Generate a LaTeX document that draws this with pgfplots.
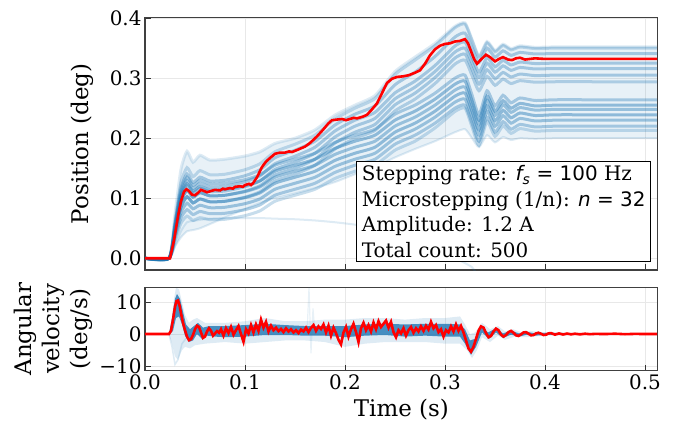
\documentclass[border=0pt]{standalone}
\usepackage{fontspec}
\setmainfont{DejaVu Serif}
\newfontfamily\dvsans{DejaVu Sans}
\usepackage{pgfplots}
\pgfplotsset{compat=1.18}
\usepackage{pgfplotstable}
\usepgfplotslibrary{fillbetween}
\definecolor{tblue}{RGB}{31,119,180}

\pgfplotstableread{
t u0 u1 u2 u3 u4 u5 u6 l1 l2 l3 l4 l5 l6 l7 o1 o2
0 0 0 0 0 0 0 0 0 0 0 0 0 0 0 0 0
0.024 0 0 0 0 0 0 0 0 0 0 0 0 0 0 0 0
0.03 0.0743 0.063 0.0585 0.054 0.0504 0.0473 0.0428 0.0563 0.0518 0.0473 0.0428 0.0383 0.0338 0.0293 0.02 0.02
0.036 0.1485 0.126 0.117 0.108 0.1008 0.0945 0.0855 0.1125 0.1035 0.0945 0.0855 0.0765 0.0675 0.0585 0.035 0.045
0.042 0.1782 0.151 0.1404 0.1296 0.121 0.1134 0.1026 0.135 0.1242 0.1134 0.1026 0.0918 0.081 0.0702 0.045 0.06
0.048 0.16 0.136 0.1261 0.1164 0.1086 0.1019 0.0922 0.1213 0.1116 0.1019 0.0922 0.0825 0.0728 0.0631 0.047 0.062
0.055 0.1716 0.146 0.1352 0.1248 0.1165 0.1092 0.0988 0.13 0.1196 0.1092 0.0988 0.0884 0.078 0.0676 0.05 0.064
0.065 0.1634 0.139 0.1287 0.1188 0.1109 0.104 0.0941 0.1238 0.1139 0.104 0.0941 0.0842 0.0743 0.0644 0.057 0.066
0.08 0.165 0.14 0.13 0.12 0.112 0.105 0.095 0.125 0.115 0.105 0.095 0.085 0.075 0.065 0.068 0.067
0.1 0.1703 0.1475 0.1375 0.1275 0.1192 0.1118 0.1018 0.131 0.121 0.111 0.101 0.091 0.081 0.071 0.082 0.067
0.115 0.1773 0.1575 0.1475 0.1375 0.1288 0.1208 0.1108 0.139 0.129 0.119 0.109 0.099 0.089 0.079 0.092 0.067
0.13 0.1913 0.1775 0.1675 0.1575 0.148 0.1388 0.1288 0.155 0.145 0.135 0.125 0.115 0.105 0.095 0.1 0.066
0.15 0.2 0.19 0.18 0.17 0.16 0.15 0.14 0.165 0.155 0.145 0.135 0.125 0.115 0.105 0.108 0.065
0.17 0.2138 0.205 0.195 0.185 0.175 0.165 0.155 0.175 0.165 0.155 0.145 0.135 0.125 0.115 0.117 0.063
0.19 0.2385 0.232 0.222 0.212 0.202 0.192 0.182 0.193 0.183 0.173 0.163 0.153 0.143 0.133 0.127 0.06
0.21 0.255 0.25 0.24 0.23 0.22 0.21 0.2 0.205 0.195 0.185 0.175 0.165 0.155 0.145 0.14 0.056
0.23 0.271 0.266 0.254 0.243 0.233 0.223 0.213 0.215 0.205 0.195 0.185 0.175 0.165 0.155 0.152 0.05
0.25 0.311 0.306 0.289 0.2755 0.2655 0.2555 0.2455 0.24 0.23 0.22 0.21 0.2 0.19 0.18 0.168 0.042
0.27 0.335 0.33 0.31 0.295 0.285 0.275 0.265 0.255 0.245 0.235 0.225 0.215 0.205 0.195 0.182 0.03
0.29 0.3578 0.354 0.336 0.321 0.311 0.301 0.291 0.275 0.265 0.255 0.245 0.235 0.225 0.217 0.195 0.015
0.31 0.3863 0.384 0.3685 0.3535 0.3435 0.3335 0.3235 0.3 0.29 0.28 0.27 0.26 0.25 0.2445 0.21 0.0
0.32 0.392 0.39 0.375 0.36 0.35 0.34 0.33 0.305 0.295 0.285 0.275 0.265 0.255 0.25 0.215 -0.008
0.327 0.3645 0.3625 0.3505 0.335 0.3255 0.315 0.3045 0.272 0.2625 0.254 0.2445 0.235 0.225 0.219 0.2 -0.015
0.334 0.337 0.335 0.326 0.31 0.301 0.29 0.279 0.239 0.23 0.223 0.214 0.205 0.195 0.188 0.185 -0.03
0.342 0.361 0.359 0.35 0.334 0.325 0.314 0.303 0.279 0.27 0.263 0.254 0.245 0.235 0.228 0.205 -0.04
0.35 0.346 0.344 0.335 0.319 0.31 0.299 0.288 0.254 0.245 0.238 0.229 0.22 0.21 0.203 0.193 -0.05
0.358 0.3565 0.3545 0.3455 0.3295 0.3205 0.3095 0.2985 0.2715 0.2625 0.2555 0.2465 0.2375 0.2275 0.2205 0.202 -0.05
0.366 0.349 0.347 0.338 0.322 0.313 0.302 0.291 0.259 0.25 0.243 0.234 0.225 0.215 0.208 0.197 -0.05
0.375 0.3538 0.3518 0.3428 0.3268 0.3178 0.3068 0.2958 0.267 0.258 0.251 0.242 0.233 0.223 0.216 0.2 -0.05
0.39 0.3513 0.3493 0.3403 0.3243 0.3153 0.3043 0.2933 0.2628 0.2538 0.2468 0.2378 0.2288 0.2188 0.2118 0.199 -0.05
0.41 0.352 0.35 0.341 0.325 0.316 0.305 0.294 0.264 0.255 0.248 0.239 0.23 0.22 0.213 0.2 -0.05
0.45 0.352 0.35 0.341 0.325 0.316 0.305 0.294 0.264 0.255 0.248 0.239 0.23 0.22 0.213 0.2 -0.05
0.512 0.352 0.35 0.341 0.325 0.316 0.305 0.294 0.264 0.255 0.248 0.239 0.23 0.22 0.213 0.2 -0.05
}\pos

\pgfplotstableread{
t y
0 0
0.025 0
0.029 0.03
0.033 0.07
0.036 0.095
0.039 0.111
0.0415 0.115
0.044 0.112
0.047 0.106
0.05 0.105
0.053 0.109
0.056 0.114
0.059 0.112
0.062 0.110
0.066 0.112
0.07 0.114
0.075 0.113
0.078 0.116
0.08 0.115
0.085 0.117
0.088 0.116
0.09 0.119
0.095 0.12
0.098 0.119
0.1 0.122
0.104 0.124
0.106 0.122
0.108 0.125
0.112 0.135
0.117 0.152
0.121 0.161
0.125 0.167
0.13 0.174
0.135 0.176
0.14 0.176
0.144 0.178
0.147 0.177
0.153 0.181
0.16 0.186
0.165 0.192
0.172 0.203
0.178 0.214
0.183 0.224
0.187 0.23
0.192 0.231
0.197 0.232
0.201 0.230
0.205 0.232
0.209 0.234
0.212 0.233
0.218 0.236
0.222 0.239
0.227 0.248
0.232 0.258
0.237 0.275
0.242 0.292
0.247 0.299
0.252 0.302
0.258 0.303
0.264 0.305
0.27 0.309
0.275 0.313
0.28 0.324
0.285 0.338
0.29 0.348
0.295 0.354
0.3 0.357
0.305 0.358
0.31 0.361
0.315 0.362
0.32 0.365
0.323 0.358
0.326 0.345
0.329 0.332
0.332 0.324
0.336 0.331
0.341 0.339
0.345 0.335
0.35 0.328
0.354 0.332
0.358 0.335
0.363 0.331
0.367 0.33
0.371 0.333
0.375 0.334
0.38 0.331
0.385 0.332
0.39 0.333
0.4 0.332
0.42 0.332
0.45 0.332
0.5 0.332
0.512 0.332
}\redpos

\pgfplotstableread{
t y
0 0
0.024 0
0.026 1
0.028 4.5
0.030 8.5
0.0315 10.3
0.033 10.5
0.0345 9
0.036 6.5
0.038 3.5
0.040 1.2
0.042 -0.8
0.044 -1.9
0.046 -1.6
0.048 -0.3
0.050 1.5
0.052 2.6
0.054 2.2
0.056 0.5
0.058 -1.2
0.060 -0.8
0.062 0.8
0.064 1.8
0.066 1.0
0.068 -0.5
0.070 0.2
0.072 0.9
0.074 0.4
0.0760 1.5
0.0785 -0.5
0.0810 1.8
0.0835 0.3
0.0860 2.2
0.0885 -0.2
0.0910 1.2
0.0935 2.5
0.0960 0.0
0.0985 -2.4
0.1010 1.5
0.1035 0.2
0.1060 2.8
0.1085 0.5
0.1110 3.0
0.1135 1.0
0.1160 4.5
0.1185 2.0
0.1210 3.8
0.1235 0.8
0.1260 2.6
0.1285 1.2
0.1310 2.0
0.1335 0.9
0.1360 1.6
0.1385 0.6
0.1410 1.8
0.1435 0.8
0.1460 1.5
0.1485 0.5
0.1510 1.2
0.1535 0.3
0.1560 1.4
0.1585 0.8
0.1610 2.0
0.1635 0.6
0.1660 1.9
0.1685 2.8
0.1710 1.0
0.1735 2.4
0.1760 1.6
0.1785 3.0
0.1810 0.5
0.1835 2.6
0.1860 -0.5
0.1885 2.0
0.1910 0.3
0.1935 -1.8
0.1960 -3.2
0.1985 0.5
0.2010 2.2
0.2035 -0.8
0.2060 1.5
0.2085 3.2
0.2110 0.6
0.2135 -2.5
0.2160 1.8
0.2185 3.5
0.2210 1.2
0.2235 2.8
0.2260 0.8
0.2285 3.6
0.2310 1.5
0.2335 4.0
0.2360 2.2
0.2385 3.2
0.2410 4.2
0.2435 2.0
0.2460 3.8
0.2485 0.6
0.2510 -1.0
0.2535 1.2
0.2560 0.2
0.2585 1.8
0.2610 -0.5
0.2635 1.2
0.2660 2.2
0.2685 0.4
0.2710 1.8
0.2735 0.8
0.2760 2.4
0.2785 1.0
0.2810 2.6
0.2835 1.4
0.2860 3.8
0.2885 1.8
0.2910 2.8
0.2935 0.6
0.2960 1.5
0.2985 -0.8
0.3010 1.2
0.3035 0.5
0.3060 2.4
0.3085 0.8
0.3110 3.0
0.3135 1.0
0.3160 2.5
0.3185 0.5
0.321 -2.0
0.3235 -4.5
0.326 -5.5
0.3285 -4.0
0.331 -1.5
0.3335 1.0
0.336 2.4
0.3385 2.0
0.341 0.3
0.3435 -1.0
0.346 -0.6
0.3485 0.8
0.351 1.7
0.3535 1.2
0.356 -0.2
0.3585 -0.8
0.361 -0.3
0.3635 0.6
0.366 1.0
0.3685 0.4
0.371 -0.4
0.3735 -0.6
0.376 -0.1
0.3785 0.5
0.381 0.6
0.3835 0.1
0.386 -0.4
0.3885 -0.3
0.391 0.2
0.3935 0.4
0.396 0.1
0.3985 -0.3
0.401 -0.2
0.4035 0.2
0.406 0.3
0.41 -0.2
0.414 0.2
0.418 -0.15
0.422 0.15
0.426 -0.1
0.43 0.1
0.435 -0.1
0.44 0.1
0.445 -0.05
0.45 0.05
0.46 0
0.47 0.1
0.48 -0.05
0.49 0.05
0.5 0
0.512 0
}\redvel

\pgfplotsset{myaxis/.style={
  scale only axis, width=512.7bp,
  xmin=0, xmax=0.5127,
  axis line style={black!75, line width=1.3bp},
  tick style={black!80, line width=0.9bp},
  major tick length=6bp,
  tick align=inside,
  xtick pos=bottom, ytick pos=left,
  grid=major, grid style={gray!18, line width=0.8bp},
  tick label style={font=\fontsize{20}{24}\selectfont},
  xtick={0,0.1,0.2,0.3,0.4,0.5},
  clip=true,
}, trace/.style={tblue, smooth, tension=0.35, line width=3bp, opacity=#1}}

\begin{document}
\begin{tikzpicture}
\begin{axis}[myaxis, at={(0,0)}, anchor=north west, height=252.5bp,
  ymin=-0.0195, ymax=0.401,
  ytick={0,0.1,0.2,0.3,0.4}, yticklabels={0.0,0.1,0.2,0.3,0.4},
  xticklabels={},
  ylabel={Position (deg)},
  ylabel style={at={(axis description cs:-0.123,0.5)}, anchor=center, font=\fontsize{23}{27}\selectfont}]
\addplot[name path=top, draw=none, smooth, tension=0.35] table[x=t,y=u0]{\pos};
\addplot[name path=bot, draw=none, smooth, tension=0.35] table[x=t,y=o1]{\pos};
\addplot[tblue, fill opacity=0.10] fill between[of=top and bot];
\addplot[trace=0.15] table[x=t,y=u0]{\pos};
\addplot[trace=0.25] table[x=t,y=u1]{\pos};
\addplot[trace=0.35] table[x=t,y=u2]{\pos};
\addplot[trace=0.35] table[x=t,y=u3]{\pos};
\addplot[trace=0.35] table[x=t,y=u4]{\pos};
\addplot[trace=0.35] table[x=t,y=u5]{\pos};
\addplot[trace=0.3] table[x=t,y=u6]{\pos};
\addplot[trace=0.35] table[x=t,y=l1]{\pos};
\addplot[trace=0.45] table[x=t,y=l2]{\pos};
\addplot[trace=0.4] table[x=t,y=l3]{\pos};
\addplot[trace=0.45] table[x=t,y=l4]{\pos};
\addplot[trace=0.4] table[x=t,y=l5]{\pos};
\addplot[trace=0.35] table[x=t,y=l6]{\pos};
\addplot[trace=0.25] table[x=t,y=l7]{\pos};
\addplot[trace=0.15, line width=2bp] table[x=t,y=o1]{\pos};
\addplot[trace=0.15, line width=2bp] table[x=t,y=o2]{\pos};
\addplot[red, line width=2.6bp] table[x=t,y=y]{\redpos};
\node[draw=black, line width=1bp, fill=white, align=left, anchor=south east,
  inner xsep=5bp, inner ysep=4bp, font=\fontsize{20}{25.5}\selectfont]
  at (rel axis cs:0.987,0.032)
  {Stepping rate: {\dvsans\itshape f\textsubscript{s}} {\dvsans = 100} Hz\\
   Microstepping (1/n): {\dvsans\itshape n} {\dvsans = 32}\\
   Amplitude: 1.2 A\\
   Total count: 500};
\end{axis}

\begin{axis}[myaxis, at={(0,-269.8bp)}, anchor=north west, height=83.4bp,
  ymin=-11.45, ymax=14.6,
  ytick={-10,0,10}, yticklabels={−10,0,10},
  xticklabels={0.0,0.1,0.2,0.3,0.4,0.5},
  xlabel={Time (s)},
  xlabel style={at={(axis description cs:0.5,-0.471)}, anchor=center, font=\fontsize{23}{27}\selectfont},
  ylabel={Angular\\velocity\\(deg/s)},
  ylabel style={at={(axis description cs:-0.1794,0.5)}, anchor=center, align=center, font=\fontsize{23}{28}\selectfont}]
\addplot[name path=fu, draw=none] coordinates {(0,0.3) (0.024,0.3) (0.026,3) (0.029,11) (0.031,14.5) (0.034,14) (0.037,10) (0.04,6) (0.044,3.5) (0.048,4.5) (0.052,5) (0.06,3.5) (0.08,3.5) (0.1,4) (0.12,5) (0.14,4) (0.16,4) (0.18,4.5) (0.2,4.5) (0.22,5) (0.24,5) (0.26,4.5) (0.28,5) (0.3,5) (0.315,5.5) (0.32,3) (0.325,0) (0.33,0.5) (0.337,3.5) (0.345,1.5) (0.353,2.5) (0.36,0.8) (0.368,1.5) (0.376,0.6) (0.384,1) (0.4,0.5) (0.45,0.4) (0.512,0.3)};
\addplot[name path=fl, draw=none] coordinates {(0,-0.3) (0.024,-0.3) (0.027,-3) (0.03,-7) (0.033,-8) (0.037,-5) (0.04,-4) (0.045,-4.5) (0.05,-3.5) (0.06,-3) (0.08,-2.5) (0.1,-3) (0.12,-2.5) (0.14,-2) (0.16,-2) (0.18,-2.5) (0.2,-4) (0.22,-3) (0.24,-2.5) (0.26,-2.5) (0.28,-2.5) (0.3,-3) (0.315,-3) (0.322,-5) (0.327,-7.5) (0.332,-5) (0.337,-1) (0.345,-2.5) (0.353,-0.5) (0.36,-1.8) (0.37,-0.8) (0.38,-1) (0.4,-0.5) (0.45,-0.4) (0.512,-0.3)};
\addplot[tblue, fill opacity=0.15] fill between[of=fu and fl];
\addplot[name path=du, draw=none] coordinates {(0,0.2) (0.024,0.2) (0.027,5) (0.03,11) (0.032,12.5) (0.035,11) (0.038,7) (0.041,3) (0.045,1.5) (0.049,2.5) (0.053,3.5) (0.058,2) (0.064,2.5) (0.07,2.5) (0.08,2.5) (0.1,2.8) (0.12,3.2) (0.14,2.8) (0.16,2.5) (0.18,2.5) (0.2,2.5) (0.22,3) (0.24,3.2) (0.26,3) (0.28,3.2) (0.3,3.2) (0.315,3) (0.32,1.5) (0.325,-2) (0.33,-1.5) (0.336,2.5) (0.343,0.5) (0.351,1.8) (0.358,0.2) (0.366,1.1) (0.374,0.2) (0.382,0.7) (0.39,0.2) (0.4,0.4) (0.45,0.2) (0.512,0.2)};
\addplot[name path=dl, draw=none] coordinates {(0,-0.2) (0.024,-0.2) (0.028,1) (0.031,5) (0.034,5.5) (0.037,3) (0.04,-0.5) (0.044,-2.5) (0.048,-2) (0.052,0) (0.057,-1.5) (0.062,-0.5) (0.07,-0.8) (0.08,-1) (0.1,-0.8) (0.12,-0.3) (0.14,-0.3) (0.16,-0.5) (0.18,-0.5) (0.2,-1) (0.22,-0.5) (0.24,-0.3) (0.26,-0.8) (0.28,-0.5) (0.3,-0.8) (0.315,-0.8) (0.32,-3) (0.326,-6.5) (0.331,-4) (0.337,0.5) (0.344,-1.5) (0.351,0.5) (0.358,-1.2) (0.366,-0.2) (0.374,-0.8) (0.382,-0.2) (0.39,-0.5) (0.4,-0.3) (0.45,-0.2) (0.512,-0.2)};
\addplot[tblue, fill opacity=0.8] fill between[of=du and dl];
\addplot[tblue, opacity=0.15, line width=1.5bp] coordinates {(0.024,0) (0.027,-4) (0.03,-9.5) (0.033,-8) (0.037,-3) (0.042,-1) (0.05,0)};
\addplot[tblue, opacity=0.1, line width=1.2bp] coordinates {(0.162,0) (0.164,14.6) (0.166,-6) (0.168,8) (0.170,0)};
\addplot[red, line width=2.6bp] table[x=t,y=y]{\redvel};
\end{axis}
\path (-145bp,17.5bp) rectangle (547bp,-408.5bp);
\end{tikzpicture}
\end{document}
